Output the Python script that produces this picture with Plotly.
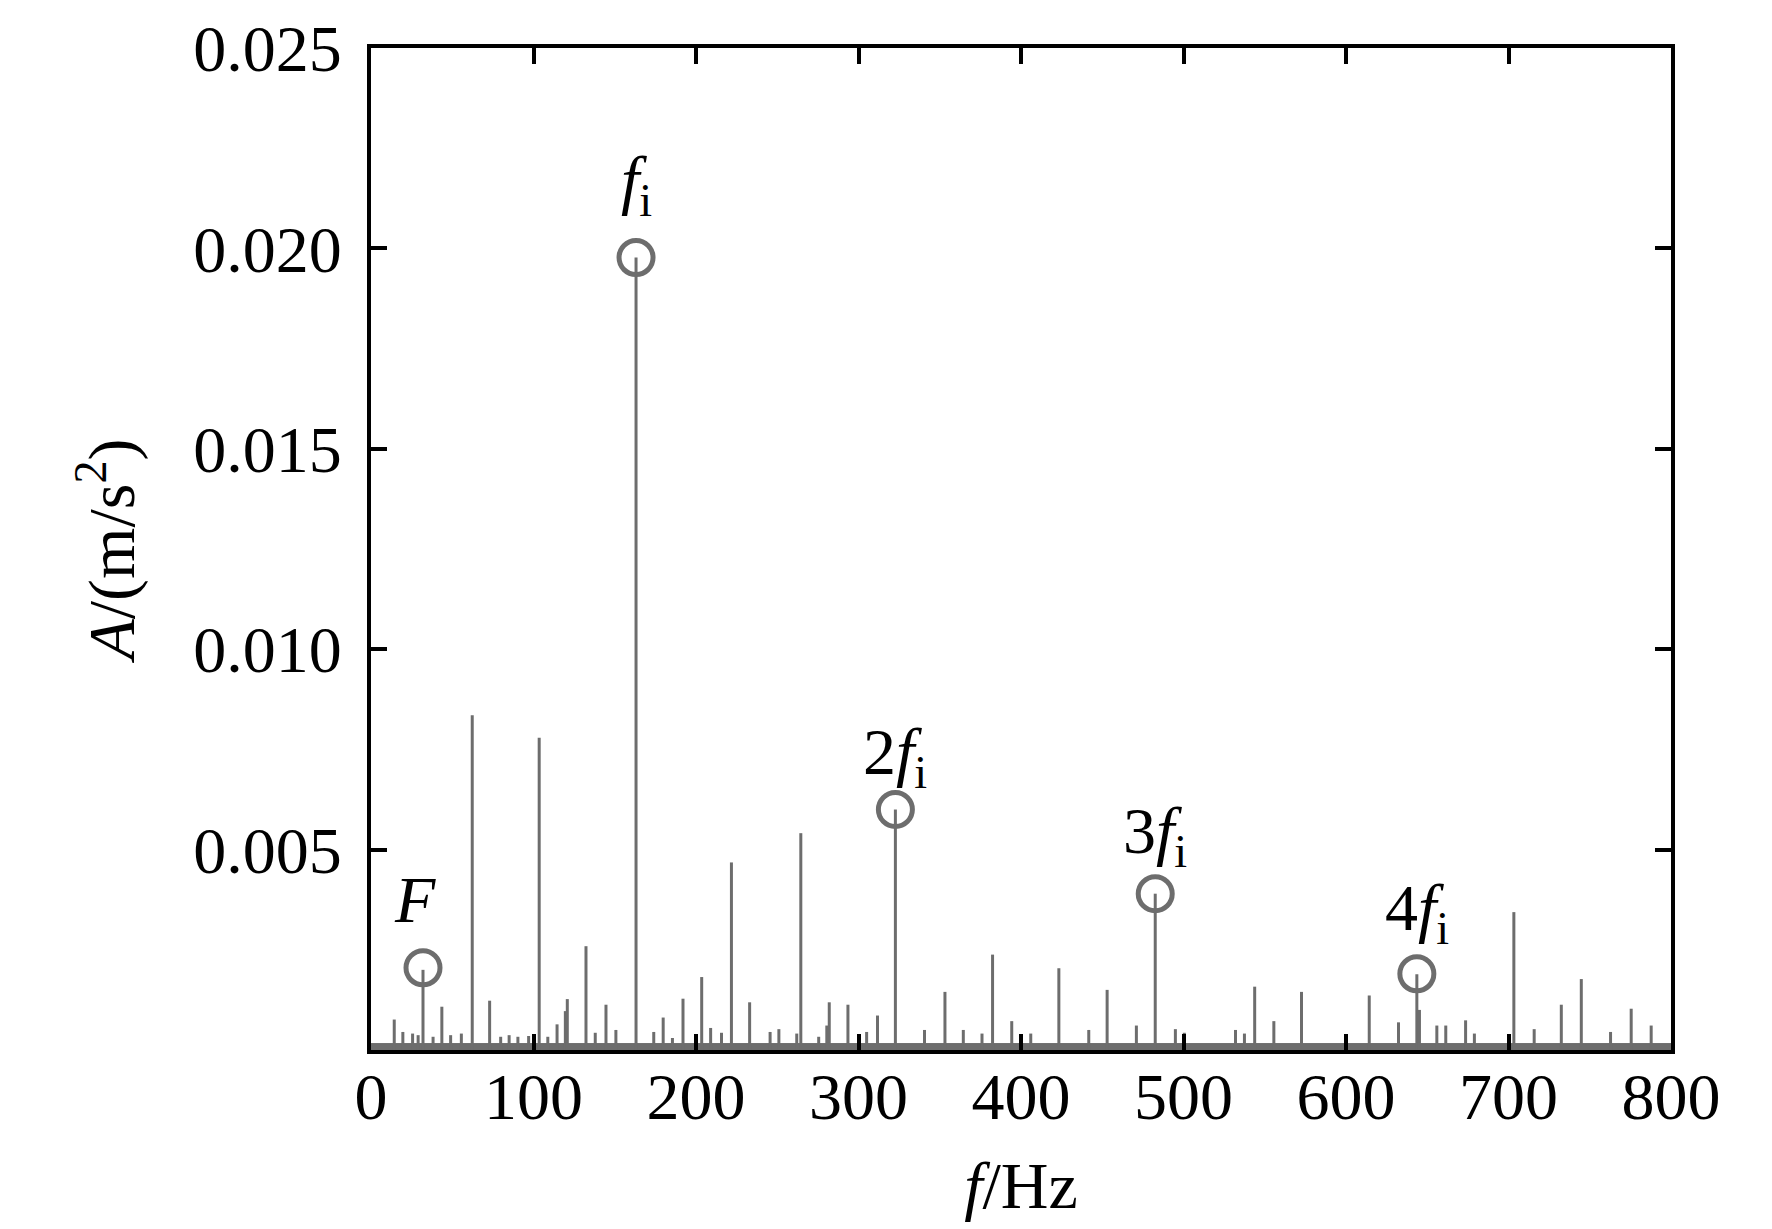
import plotly.graph_objects as go

# spectrum lines (Hz, m/s^2)
spike_freq = [14.3, 19.6, 25.6, 29.0, 32.0, 38.2, 43.6, 49.0, 55.6, 62.3,
              73.0, 79.8, 85.0, 90.4, 97.0, 103.5, 108.8, 114.5, 119.6, 120.8,
              132.3, 138.0, 144.6, 150.7, 163.1, 174.0, 179.8, 185.5, 192.0, 203.5,
              209.0, 215.7, 221.8, 233.0, 245.6, 251.0, 262.0, 264.5, 275.5, 280.5,
              282.0, 293.5, 305.0, 311.7, 322.7, 340.6, 353.2, 364.5, 376.0, 382.5,
              394.3, 406.0, 423.3, 441.7, 453.0, 471.0, 482.6, 495.0, 500.5, 532.0,
              537.5, 543.8, 555.6, 572.6, 614.3, 632.3, 643.6, 645.2, 655.9, 661.4,
              673.6, 679.0, 703.3, 715.8, 732.5, 744.8, 762.8, 775.5, 787.8]
spike_amp = [0.00076, 0.00045, 0.00041, 0.00037, 0.00200, 0.00033, 0.00108, 0.00037, 0.00041, 0.00835,
             0.00123, 0.00033, 0.00037, 0.00033, 0.00035, 0.00779, 0.00033, 0.00064, 0.00097, 0.00127,
             0.00259, 0.00043, 0.00113, 0.00050, 0.01977, 0.00045, 0.00081, 0.00030, 0.00128, 0.00182,
             0.00055, 0.00043, 0.00468, 0.00119, 0.00045, 0.00052, 0.00041, 0.00541, 0.00033, 0.00061,
             0.00119, 0.00113, 0.00045, 0.00086, 0.00600, 0.00050, 0.00145, 0.00050, 0.00041, 0.00238,
             0.00072, 0.00041, 0.00204, 0.00050, 0.00150, 0.00061, 0.00390, 0.00052, 0.00043, 0.00050,
             0.00041, 0.00158, 0.00072, 0.00145, 0.00136, 0.00069, 0.00189, 0.00100, 0.00061, 0.00061,
             0.00074, 0.00041, 0.00344, 0.00052, 0.00113, 0.00177, 0.00045, 0.00103, 0.00061]
noise_floor = 0.00016

# marked peaks
peak_freq = [32.0, 163.1, 322.7, 482.6, 643.6]
peak_amp = [0.00205, 0.01977, 0.00600, 0.00390, 0.00190]
peak_label = ["<i>F</i>", "<i>f</i><sub>i</sub>", "2<i>f</i><sub>i</sub>",
              "3<i>f</i><sub>i</sub>", "4<i>f</i><sub>i</sub>"]

ytick_vals = [0.005, 0.010, 0.015, 0.020, 0.025]
ytick_text = ["0.005", "0.010", "0.015", "0.020", "0.025"]

gray = "#6d6d6d"
font = "Liberation Serif, Times New Roman, serif"
# label placement above each circle (px)
label_shift = [(-8, 30), (0, 30), (0, 10), (0, 15), (0, 18)]

stem_x, stem_y = [], []
for f, a in zip(spike_freq, spike_amp):
    stem_x += [f, f, None]
    stem_y += [0, a, None]

fig = go.Figure()
# low noise floor sitting on the axis
fig.add_trace(go.Scatter(x=[0, 800], y=[noise_floor, noise_floor], mode="lines",
                         fill="tozeroy", fillcolor=gray,
                         line=dict(color=gray, width=1), hoverinfo="skip"))
fig.add_trace(go.Scatter(x=stem_x, y=stem_y, mode="lines",
                         line=dict(color=gray, width=3)))
fig.add_trace(go.Scatter(x=peak_freq, y=peak_amp, mode="markers",
                         marker=dict(symbol="circle-open", size=34, color=gray,
                                     line=dict(color=gray, width=5))))

for f, a, t, (dx, dy) in zip(peak_freq, peak_amp, peak_label, label_shift):
    fig.add_annotation(x=f, y=a, text=t, showarrow=False, xref="x", yref="y",
                       yanchor="bottom", yshift=dy, xshift=dx,
                       font=dict(family=font, size=66, color="black"))

axis_style = dict(showline=True, linecolor="black", linewidth=4, mirror="allticks",
                  ticks="inside", ticklen=16, tickwidth=4, tickcolor="black",
                  showgrid=False, zeroline=False,
                  tickfont=dict(family=font, size=66, color="black"))

fig.update_xaxes(range=[0, 800], tickvals=[0, 100, 200, 300, 400, 500, 600, 700, 800],
                 ticklabelstandoff=-14,
                 title=dict(text="<i>f</i>/Hz", font=dict(family=font, size=66, color="black"),
                            standoff=31),
                 **axis_style)
fig.update_yaxes(range=[0, 0.025], tickvals=ytick_vals, ticktext=ytick_text,
                 ticklabelstandoff=12,
                 title=dict(text="<i>A</i>/(m/s<sup>2</sup>)",
                            font=dict(family=font, size=66, color="black"), standoff=38),
                 **axis_style)

fig.update_layout(width=1772, height=1229, showlegend=False,
                  paper_bgcolor="white", plot_bgcolor="white",
                  margin=dict(l=371, r=101, t=36, b=179))

# drop the browser's default page margin so the figure sits at the window corner
fig.write_html("out.html", config={"displayModeBar": False},
               post_script="document.body.style.margin='0';")
